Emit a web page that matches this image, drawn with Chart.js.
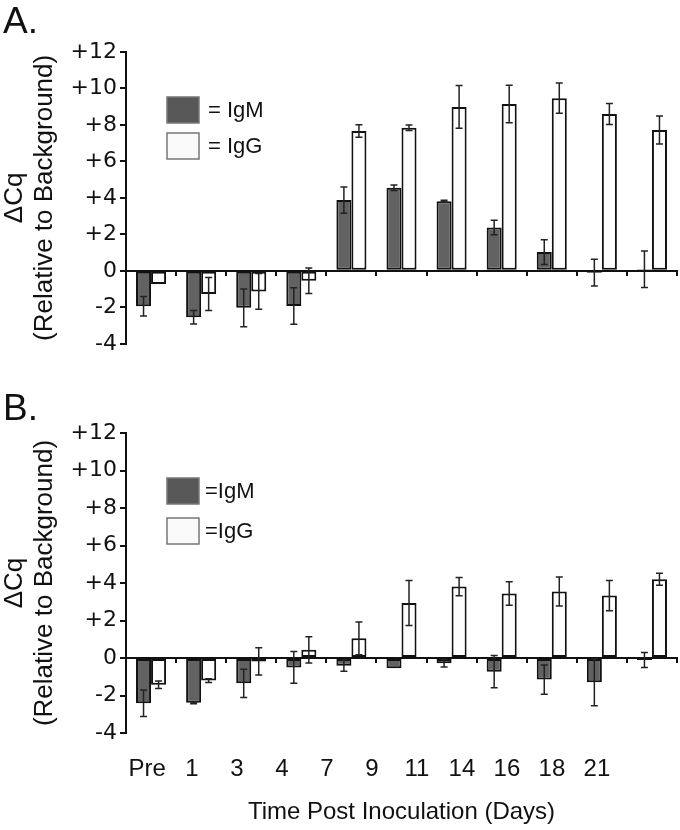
<!DOCTYPE html>
<html><head><meta charset="utf-8">
<script src="https://cdn.jsdelivr.net/npm/chart.js@4.4.0/dist/chart.umd.min.js"></script>
<style>
html,body{margin:0;padding:0;background:#fff;}
#wrap{position:relative;width:680px;height:830px;overflow:hidden;background:#fff;}
#cA{position:absolute;left:0;top:0;width:680px;height:360px;}
#cB{position:absolute;left:0;top:360px;width:680px;height:470px;}
.pl{position:absolute;left:3px;font-family:"Liberation Sans",Arial,sans-serif;font-size:37px;line-height:37px;color:#111;}
</style></head><body>
<div id="wrap">
<canvas id="cA" width="680" height="360"></canvas>
<canvas id="cB" width="680" height="470"></canvas>
<div class="pl" style="top:2px">A.</div>
<div class="pl" style="top:389px">B.</div>
</div>
<script>
// ---- data ----
const days = ['Pre','1','3','4','7','9','11','14','16','18','21'];
const yTicks = [-4,-2,0,2,4,6,8,10,12];

// Panel A
const igmA    = [-1.94,-2.55,-2.03,-1.93, 3.88, 4.56, 3.82, 2.38, 1.03,-0.10, 0.09];
const igmAErr = [ 0.53, 0.37, 1.03, 1.00, 0.72, 0.15, 0.05, 0.40, 0.68, 0.73, 1.00];
const iggA    = [-0.72,-1.27,-1.13,-0.54, 7.67, 7.85, 8.99, 9.15, 9.47, 8.60, 7.72];
const iggAErr = [ 0.00, 0.90, 0.98, 0.70, 0.34, 0.15, 1.17, 1.03, 0.83, 0.58, 0.77];

// Panel B
const igmB    = [-2.41,-2.39,-1.35,-0.50,-0.41,-0.55,-0.28,-0.73,-1.15,-1.29,-0.10];
const igmBErr = [ 0.71, 0.05, 0.75, 0.85, 0.30, 0.00, 0.20, 0.86, 0.78, 1.25, 0.40];
const iggB    = [-1.42,-1.20,-0.18, 0.44, 1.05, 2.94, 3.81, 3.44, 3.55, 3.33, 4.20];
const iggBErr = [ 0.20, 0.10, 0.73, 0.70, 0.87, 1.20, 0.49, 0.63, 0.77, 0.81, 0.32];

const seriesNames = ['IgM','IgG'];

// ---- plugins ----
const errorBars = {
  id:'errorBars',
  afterDatasetsDraw(chart){
    const ctx = chart.ctx, ys = chart.scales.y;
    chart.data.datasets.forEach((ds,di)=>{
      const meta = chart.getDatasetMeta(di);
      meta.data.forEach((bar,i)=>{
        const e = ds.errors[i];
        if(!e) return;
        const v = ds.data[i];
        const x = bar.x;
        const y1 = ys.getPixelForValue(v+e), y2 = ys.getPixelForValue(v-e);
        ctx.save();
        ctx.strokeStyle = '#222'; ctx.lineWidth = 1.5;
        ctx.beginPath();
        ctx.moveTo(x,y1); ctx.lineTo(x,y2);
        ctx.moveTo(x-3.5,y1); ctx.lineTo(x+3.5,y1);
        ctx.moveTo(x-3.5,y2); ctx.lineTo(x+3.5,y2);
        ctx.stroke();
        ctx.restore();
      });
    });
  }
};

const boxLegend = {
  id:'boxLegend',
  afterDraw(chart, args, opts){
    const ctx = chart.ctx, a = chart.chartArea;
    chart.data.datasets.forEach((ds,i)=>{
      const x = a.left + opts.x, y = a.top + opts.y + i*opts.gap;
      ctx.save();
      ctx.fillStyle = ds.legendFill;
      ctx.fillRect(x,y,32,26);
      ctx.strokeStyle = '#777'; ctx.lineWidth = 1.5;
      ctx.strokeRect(x,y,32,26);
      ctx.fillStyle = '#111';
      ctx.font = '22px "Liberation Sans", Arial, sans-serif';
      ctx.textBaseline = 'middle';
      ctx.fillText(opts.prefix + ds.label, x + opts.tx, y + 14);
      ctx.restore();
    });
  }
};

function makeDatasets(igm, igmErr, igg, iggErr){
  return [
    {label:seriesNames[0], data:igm, errors:igmErr, backgroundColor:'#626262', legendFill:'#575757',
     borderColor:'#111', borderWidth:2, borderSkipped:false, categoryPercentage:0.6, barPercentage:1.0, xAxisID:'x'},
    {label:seriesNames[1], data:igg, errors:iggErr, backgroundColor:'#fdfdfd', legendFill:'#fafafa',
     borderColor:'#111', borderWidth:2, borderSkipped:false, categoryPercentage:0.6, barPercentage:1.0, xAxisID:'x'}
  ];
}

function yScale(){
  return {
    min:-4, max:12,
    afterBuildTicks(s){ s.ticks = yTicks.map(v=>({value:v})); },
    ticks:{color:'#111', padding:3, font:{family:'DejaVu Sans', size:22},
      callback:v => v>0 ? '+'+v : String(v)},
    border:{display:true, color:'#111', width:2},
    grid:{drawOnChartArea:false, drawTicks:true, tickLength:6, color:'#111', lineWidth:2},
    title:{display:true, text:['ΔCq','(Relative to Background)'], color:'#111',
      font:{family:'Liberation Sans', size:26, lineHeight:1.15}, padding:{top:0,bottom:0}},
    afterFit(s){ s.width = 126; }
  };
}

function xZero(){
  return {
    type:'category', position:{y:0},
    ticks:{display:false},
    border:{display:true, color:'#111', width:2},
    grid:{drawOnChartArea:false, drawTicks:true, tickLength:4, color:'#111', lineWidth:2, offset:true}
  };
}

Chart.defaults.font.family = '"Liberation Sans", Arial, sans-serif';
Chart.defaults.color = '#111';

new Chart(document.getElementById('cA'), {
  type:'bar',
  data:{labels:days, datasets:makeDatasets(igmA, igmAErr, iggA, iggAErr)},
  options:{
    responsive:false, animation:false, devicePixelRatio:1,
    layout:{padding:{top:52, bottom:12, left:0, right:3}},
    plugins:{legend:{display:false}, tooltip:{enabled:false},
      boxLegend:{x:41, y:45, gap:36, tx:41, prefix:'= '}},
    scales:{ x:xZero(), y:yScale() }
  },
  plugins:[errorBars, boxLegend]
});

new Chart(document.getElementById('cB'), {
  type:'bar',
  data:{labels:days, datasets:makeDatasets(igmB, igmBErr, iggB, iggBErr)},
  options:{
    responsive:false, animation:false, devicePixelRatio:1,
    layout:{padding:{top:73, bottom:0, left:0, right:3}},
    plugins:{legend:{display:false}, tooltip:{enabled:false},
      boxLegend:{x:41, y:45, gap:40, tx:38, prefix:'='}},
    scales:{
      x:xZero(),
      y:yScale(),
      xl:{
        type:'linear', axis:'x', position:'bottom', min:-0.468, max:11.781, offset:false,
        afterBuildTicks(s){ s.ticks = days.map((d,i)=>({value:i})); },
        ticks:{autoSkip:false, maxRotation:0, padding:22, color:'#111',
          font:{family:'Liberation Sans', size:24}, callback:v => days[v]},
        grid:{display:false, drawTicks:false, offset:false},
        border:{display:false},
        title:{display:true, text:'Time Post Inoculation (Days)', color:'#111',
          font:{family:'Liberation Sans', size:24}, padding:{top:0, bottom:3}},
        afterFit(s){ s.height = 97; s.paddingLeft = 0; s.paddingRight = 0; }
      }
    }
  },
  plugins:[errorBars, boxLegend]
});
</script>
</body></html>
